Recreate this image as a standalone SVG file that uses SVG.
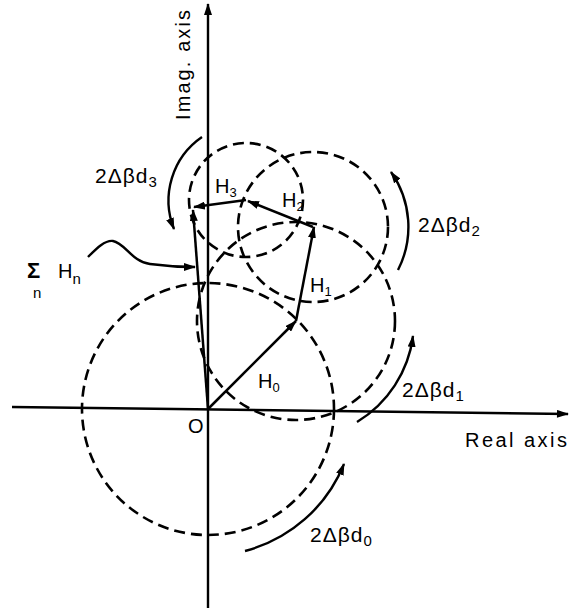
<svg xmlns="http://www.w3.org/2000/svg" width="569" height="612" viewBox="0 0 569 612">
<defs>
<marker id="ah" viewBox="0 0 12 8" refX="11" refY="4" markerWidth="13" markerHeight="8" markerUnits="userSpaceOnUse" orient="auto">
<path d="M0,0 L12,4 L0,8 Z" fill="#000"/>
</marker>
<marker id="ahs" viewBox="0 0 12 8" refX="11" refY="4" markerWidth="12" markerHeight="8" markerUnits="userSpaceOnUse" orient="auto">
<path d="M0,0 L12,4 L0,8 Z" fill="#000"/>
</marker>
</defs>
<style>
.ax{stroke:#000;stroke-width:2.4;fill:none}
.dc{stroke:#000;stroke-width:2.6;fill:none;stroke-dasharray:11 6}
.vec{stroke:#000;stroke-width:2.5;fill:none}
.rot{stroke:#000;stroke-width:2.4;fill:none}
text{font-family:"Liberation Sans",Arial,sans-serif;fill:#000}
.lb{font-size:20px}
.rl{font-size:21px;letter-spacing:1px}
.sb{font-size:13px}
.rs{font-size:15px}
</style>
<rect width="569" height="612" fill="#fff"/>
<g id="axes">
<line class="ax" x1="208" y1="608" x2="208" y2="4" marker-end="url(#ah)"/>
<line class="ax" x1="12" y1="407" x2="568" y2="414" marker-end="url(#ah)"/>
</g>
<g id="circles">
<circle id="circle0" class="dc" cx="208" cy="409" r="126"/>
<circle id="circle1" class="dc" cx="296" cy="321" r="99"/>
<circle id="circle2" class="dc" cx="313" cy="227" r="75"/>
<circle id="circle3" class="dc" cx="246" cy="200" r="57"/>
</g>
<g id="connectors">
<line id="H0" class="vec" x1="208" y1="409" x2="296" y2="321" marker-end="url(#ahs)"/>
<line id="H1" class="vec" x1="296" y1="321" x2="314" y2="227" marker-end="url(#ahs)"/>
<line id="H2" class="vec" x1="313" y1="227" x2="248" y2="201" marker-end="url(#ahs)"/>
<line id="H3" class="vec" x1="246" y1="200" x2="194" y2="207" marker-end="url(#ahs)"/>
<line id="sum" class="vec" x1="208" y1="409" x2="193" y2="210" marker-end="url(#ahs)"/>
<path id="rot0" class="rot" d="M245,551 A147,147 0 0 0 344,464" marker-end="url(#ahs)"/>
<path id="rot1" class="rot" d="M357,422 A118,118 0 0 0 413,336" marker-end="url(#ahs)"/>
<path id="rot2" class="rot" d="M398,270 A95,95 0 0 0 391,172" marker-end="url(#ahs)"/>
<path id="rot3" class="rot" d="M202,137 A77,77 0 0 0 174,229" marker-end="url(#ahs)"/>
<path id="sumPointer" class="rot" d="M88,257 C97,248 105,240 113,241 C125,243 132,262 150,264 C165,266 180,267 195,267" marker-end="url(#ahs)"/>
</g>
<g id="labels">
<text class="lb" transform="translate(190,120) rotate(-90)" textLength="110" lengthAdjust="spacing">Imag. axis</text>
<text class="lb" x="465" y="447" textLength="102" lengthAdjust="spacing">Real axis</text>
<text class="lb" x="188" y="433">O</text>
<text class="lb" x="258" y="388">H<tspan class="sb" dy="4">0</tspan></text>
<text class="lb" x="310" y="292">H<tspan class="sb" dy="4">1</tspan></text>
<text class="lb" x="282" y="207">H<tspan class="sb" dy="4">2</tspan></text>
<text class="lb" x="215" y="193">H<tspan class="sb" dy="4">3</tspan></text>
<text class="rl" x="310" y="542">2Δβd<tspan class="rs" dy="4">0</tspan></text>
<text class="rl" x="402" y="397">2Δβd<tspan class="rs" dy="4">1</tspan></text>
<text class="rl" x="418" y="232">2Δβd<tspan class="rs" dy="4">2</tspan></text>
<text class="rl" x="95" y="183">2Δβd<tspan class="rs" dy="4">3</tspan></text>
<text x="27" y="278" style="font-size:22px;font-weight:bold">Σ</text>
<text x="33" y="298" class="sb" style="font-size:15px">n</text>
<text class="lb" x="58" y="278">H<tspan class="sb" style="font-size:15px" dy="6">n</tspan></text>
</g>
</svg>
